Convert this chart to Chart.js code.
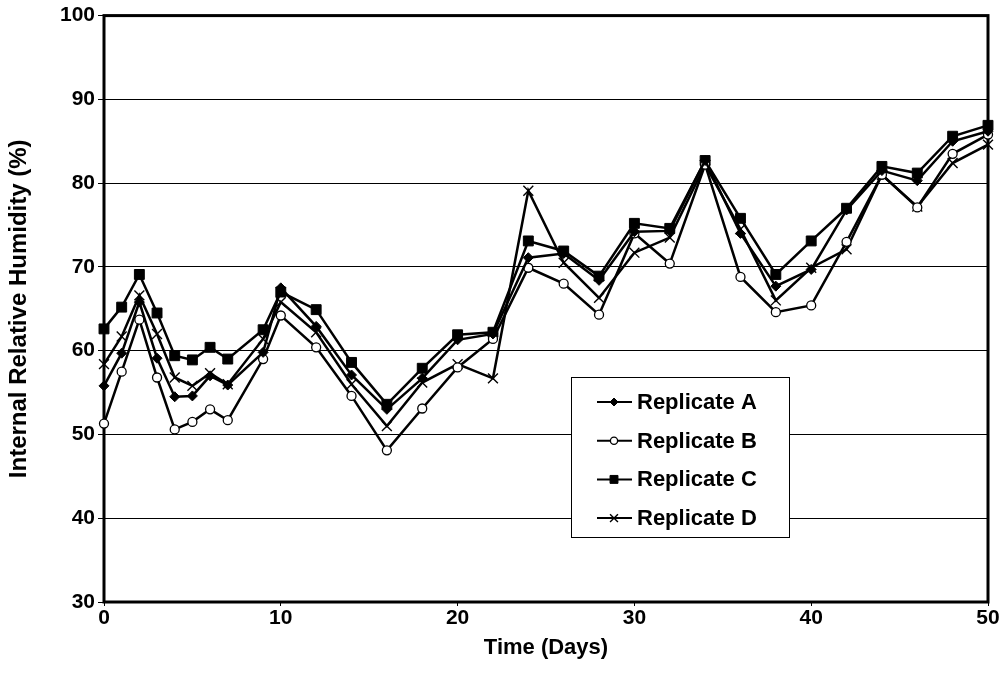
<!DOCTYPE html>
<html>
<head>
<meta charset="utf-8">
<script src="https://cdn.jsdelivr.net/npm/chart.js@4.4.1/dist/chart.umd.min.js"></script>
<style>
  html, body { margin: 0; padding: 0; background: #fff; }
  #wrap { width: 1006px; height: 694px; }
</style>
</head>
<body>
<div id="wrap"><canvas id="humidity-chart" width="1006" height="694"></canvas></div>
<script>
// sampling days
const days = [0, 1, 2, 3, 4, 5, 6, 7, 9, 10, 12, 14, 16, 18, 20, 22, 24, 26, 28, 30, 32, 34, 36, 38, 40, 42, 44, 46, 48, 50];

// internal relative humidity (%) per replicate
const replicateA = [55.8, 59.7, 65.8, 59.1, 54.5, 54.6, 57.0, 55.9, 59.8, 67.5, 62.9, 57.1, 53.0, 56.7, 61.3, 62.0, 71.1, 71.6, 68.4, 74.2, 74.3, 82.7, 74.0, 67.7, 69.7, 76.8, 81.5, 80.3, 85.0, 86.2];
const replicateB = [51.3, 57.5, 63.7, 56.8, 50.6, 51.5, 53.0, 51.7, 59.0, 64.2, 60.4, 54.6, 48.1, 53.1, 58.0, 61.4, 69.9, 68.0, 64.3, 74.0, 70.4, 82.2, 68.8, 64.6, 65.4, 73.0, 81.0, 77.1, 83.5, 85.8];
const replicateC = [62.6, 65.2, 69.1, 64.5, 59.4, 58.9, 60.4, 59.0, 62.5, 67.0, 64.9, 58.6, 53.6, 57.9, 61.9, 62.2, 73.1, 71.9, 68.9, 75.2, 74.6, 82.7, 75.8, 69.1, 73.1, 77.0, 82.0, 81.2, 85.6, 86.9];
const replicateD = [58.4, 61.7, 66.6, 62.0, 56.8, 55.8, 57.3, 56.0, 61.4, 65.8, 62.2, 56.0, 51.0, 56.2, 58.4, 56.7, 79.1, 70.5, 66.3, 71.7, 73.5, 82.2, 74.5, 66.0, 69.9, 72.1, 81.0, 77.2, 82.4, 84.6];

const seriesLabels = ['Replicate A', 'Replicate B', 'Replicate C', 'Replicate D'];

// axis ticks
const xTicks = [0, 10, 20, 30, 40, 50];
const yTicks = [30, 40, 50, 60, 70, 80, 90, 100];

const FONT = "'Liberation Sans', Arial, sans-serif";
Chart.defaults.font.family = FONT;
Chart.defaults.color = '#000';

function toPoints(values) {
    return values.map((v, i) => ({ x: days[i], y: v }));
}

const markerStyles = [
    { pointStyle: 'rectRot', pointRadius: 5, pointBackgroundColor: '#000', pointBorderWidth: 1 },
    { pointStyle: 'circle', pointRadius: 4.5, pointBackgroundColor: '#fff', pointBorderWidth: 1.3 },
    { pointStyle: 'rect', pointRadius: 7, pointBackgroundColor: '#000', pointBorderWidth: 1 },
    { pointStyle: 'crossRot', pointRadius: 7, pointBackgroundColor: '#000', pointBorderWidth: 1.4 }
];

const allSeries = [replicateA, replicateB, replicateC, replicateD];

const datasets = allSeries.map((values, i) => Object.assign({
    label: seriesLabels[i],
    data: toPoints(values),
    borderColor: '#000',
    borderWidth: 2.5,
    pointBorderColor: '#000',
    tension: 0,
    fill: false,
    clip: false
}, markerStyles[i]));

// thick frame around the plot area
const framePlugin = {
    id: 'frame',
    beforeDatasetsDraw(chart) {
        const { ctx, chartArea: a } = chart;
        ctx.save();
        ctx.strokeStyle = '#000';
        ctx.lineWidth = 3;
        ctx.strokeRect(a.left, a.top, a.right - a.left, a.bottom - a.top);
        ctx.restore();
    }
};

// boxed legend inside the plot
const boxLegendPlugin = {
    id: 'boxLegend',
    afterDraw(chart) {
        const ctx = chart.ctx;
        const boxX = 571, boxY = 377, boxW = 218, boxH = 160;
        ctx.save();
        ctx.fillStyle = '#fff';
        ctx.fillRect(boxX, boxY, boxW, boxH);
        ctx.strokeStyle = '#000';
        ctx.lineWidth = 1;
        ctx.strokeRect(boxX + 0.5, boxY + 0.5, boxW, boxH);

        ctx.font = 'bold 22px ' + FONT;
        ctx.textBaseline = 'middle';
        ctx.textAlign = 'left';
        chart.data.datasets.forEach((ds, i) => {
            const y = boxY + 25 + i * 38.7;
            ctx.strokeStyle = '#000';
            ctx.lineWidth = 2;
            ctx.beginPath();
            ctx.moveTo(boxX + 26, y);
            ctx.lineTo(boxX + 61, y);
            ctx.stroke();
            ctx.fillStyle = ds.pointBackgroundColor;
            ctx.strokeStyle = '#000';
            ctx.lineWidth = ds.pointBorderWidth;
            Chart.helpers.drawPoint(ctx, {
                pointStyle: ds.pointStyle,
                radius: ds.pointRadius * 0.8,
                borderWidth: ds.pointBorderWidth,
                rotation: 0
            }, boxX + 43, y);
            ctx.fillStyle = '#000';
            ctx.fillText(ds.label, boxX + 66, y + 1);
        });
        ctx.restore();
    }
};

const ctx = document.getElementById('humidity-chart').getContext('2d');
new Chart(ctx, {
    type: 'line',
    data: { datasets: datasets },
    plugins: [framePlugin, boxLegendPlugin],
    options: {
        responsive: false,
        animation: false,
        events: [],
        layout: { padding: { left: 0, right: 18, top: 14, bottom: 0 } },
        plugins: {
            legend: { display: false },
            tooltip: { enabled: false }
        },
        scales: {
            x: {
                type: 'linear',
                min: 0,
                max: 50,
                afterBuildTicks(scale) { scale.ticks = xTicks.map(v => ({ value: v })); },
                afterFit(scale) { scale.height = 92; },
                grid: { drawOnChartArea: false, tickLength: 4, color: '#000' },
                border: { display: false },
                ticks: { font: { size: 21, weight: 'bold' }, padding: 0, maxRotation: 0 },
                title: {
                    display: true,
                    text: 'Time (Days)',
                    font: { size: 22, weight: 'bold' },
                    padding: { top: 0, bottom: 33 }
                }
            },
            y: {
                min: 30,
                max: 100,
                afterBuildTicks(scale) { scale.ticks = yTicks.map(v => ({ value: v })); },
                afterFit(scale) { scale.width = 104; },
                grid: { color: '#000', lineWidth: 1, tickLength: 6 },
                border: { display: false },
                ticks: { font: { size: 21, weight: 'bold' }, padding: 3 },
                title: {
                    display: true,
                    text: 'Internal Relative Humidity (%)',
                    font: { size: 24, weight: 'bold' },
                    padding: { top: 5, bottom: 0 }
                }
            }
        }
    }
});
</script>
</body>
</html>
